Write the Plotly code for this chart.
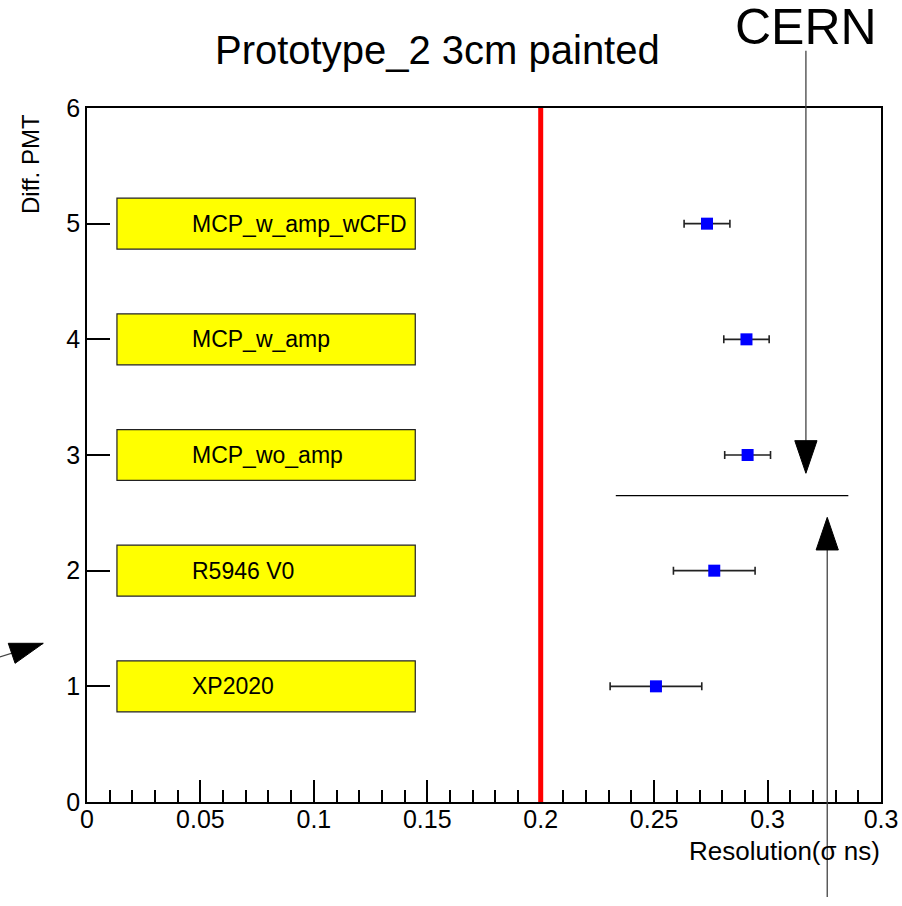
import plotly.graph_objects as go

# ---- data ---------------------------------------------------------------
detectors = ["XP2020", "R5946 V0", "MCP_wo_amp", "MCP_w_amp", "MCP_w_amp_wCFD"]
pmt_index = [1, 2, 3, 4, 5]
resolution = [0.2508, 0.2765, 0.2912, 0.2907, 0.2733]      # sigma, ns
resolution_err = [0.0202, 0.0180, 0.0101, 0.0100, 0.0101]

target_resolution = 0.2          # red reference line
x_ticks = [0, 0.05, 0.1, 0.15, 0.2, 0.25, 0.3, 0.35]
x_tick_labels = ["0", "0.05", "0.1", "0.15", "0.2", "0.25", "0.3", "0.3"]
y_ticks = [0, 1, 2, 3, 4, 5, 6]

X_RANGE = [0, 0.35]
Y_RANGE = [0, 6]

# label boxes (x extent, half-height) and text anchor
box_x = [0.0132, 0.1447]
box_half_h = 0.22
label_x = 0.0454

# annotation geometry (in data units)
cut_line = dict(x0=0.2331, x1=0.3356, y=2.648)
down_arrow = dict(x=0.3169, y_top=6.495, y_base=3.124, y_tip=2.842, half_w=0.0049)
up_arrow = dict(x=0.3263, y_bottom=-0.821, y_base=2.179, y_tip=2.461, half_w=0.0049)
side_arrow = dict(start=(-0.0384, 1.2536), tip=(-0.0193, 1.372),
                  base_a=(-0.0347, 1.372), base_b=(-0.0317, 1.199))

FONT = "Liberation Sans, Arial, Helvetica, sans-serif"

# plot area in pixels
W, H = 902, 906
L, R, T, B = 87, 21, 108, 104
PW, PH = W - L - R, H - T - B


def px(x):
    return (x - X_RANGE[0]) / (X_RANGE[1] - X_RANGE[0])


def py(y):
    return (y - Y_RANGE[0]) / (Y_RANGE[1] - Y_RANGE[0])


def pix_x(p):
    return (p - L) / PW


def pix_y(p):
    return (H - B - p) / PH


fig = go.Figure()

fig.add_trace(go.Scatter(
    x=resolution, y=pmt_index, mode="markers",
    marker=dict(symbol="square", size=12, color="#0000ff", line=dict(width=0)),
    error_x=dict(type="data", array=resolution_err, visible=True,
                 color="#222222", thickness=1.6, width=4),
    showlegend=False, hoverinfo="x+y",
))

shapes = []

# yellow label boxes
for yi in pmt_index:
    shapes.append(dict(type="rect", xref="x", yref="y", layer="below",
                       x0=box_x[0], x1=box_x[1], y0=yi - box_half_h, y1=yi + box_half_h,
                       fillcolor="#ffff00", line=dict(color="#222222", width=1.2)))

# red reference line
shapes.append(dict(type="line", xref="x", yref="y", x0=target_resolution, x1=target_resolution,
                   y0=Y_RANGE[0], y1=Y_RANGE[1], line=dict(color="#ff0000", width=5)))

# horizontal cut line
shapes.append(dict(type="line", xref="x", yref="y", x0=cut_line["x0"], x1=cut_line["x1"],
                   y0=cut_line["y"], y1=cut_line["y"], line=dict(color="black", width=1.2)))


def tri_path(pts):
    s = "M {},{}".format(px(pts[0][0]), py(pts[0][1]))
    for x, y in pts[1:]:
        s += " L {},{}".format(px(x), py(y))
    return s + " Z"


# arrow from the CERN label down to the cut line
d = down_arrow
shapes.append(dict(type="line", xref="paper", yref="paper",
                   x0=px(d["x"]), x1=px(d["x"]), y0=py(d["y_top"]), y1=py(d["y_base"]),
                   line=dict(color="#444444", width=1.3)))
shapes.append(dict(type="path", xref="paper", yref="paper",
                   path=tri_path([(d["x"] - d["half_w"], d["y_base"]),
                                  (d["x"] + d["half_w"], d["y_base"]),
                                  (d["x"], d["y_tip"])]),
                   fillcolor="black", line=dict(color="black", width=1)))

# arrow from below up to the cut line
u = up_arrow
shapes.append(dict(type="line", xref="paper", yref="paper",
                   x0=px(u["x"]), x1=px(u["x"]), y0=py(u["y_bottom"]), y1=py(u["y_base"]),
                   line=dict(color="#444444", width=1.3)))
shapes.append(dict(type="path", xref="paper", yref="paper",
                   path=tri_path([(u["x"] - u["half_w"], u["y_base"]),
                                  (u["x"] + u["half_w"], u["y_base"]),
                                  (u["x"], u["y_tip"])]),
                   fillcolor="black", line=dict(color="black", width=1)))

# small arrow on the left margin
s = side_arrow
shapes.append(dict(type="line", xref="paper", yref="paper",
                   x0=px(s["start"][0]), y0=py(s["start"][1]),
                   x1=px(s["tip"][0]), y1=py(s["tip"][1]),
                   line=dict(color="#444444", width=1.2)))
shapes.append(dict(type="path", xref="paper", yref="paper",
                   path=tri_path([s["base_a"], s["tip"], s["base_b"]]),
                   fillcolor="black", line=dict(color="black", width=1)))

annotations = []
for name, yi in zip(detectors, pmt_index):
    annotations.append(dict(x=label_x, y=yi, xref="x", yref="y", text=name,
                            showarrow=False, xanchor="left", yanchor="middle",
                            font=dict(family=FONT, size=23, color="black")))

annotations += [
    dict(x=pix_x(437), y=pix_y(50), xref="paper", yref="paper",
         text="Prototype_2 3cm painted", showarrow=False,
         xanchor="center", yanchor="middle",
         font=dict(family=FONT, size=40, color="black")),
    dict(x=pix_x(806), y=pix_y(27), xref="paper", yref="paper",
         text="CERN", showarrow=False, xanchor="center", yanchor="middle",
         font=dict(family=FONT, size=50, color="black")),
    dict(x=pix_x(882), y=pix_y(851), xref="paper", yref="paper",
         text="Resolution(σ ns)", showarrow=False, xanchor="right", yanchor="middle",
         font=dict(family=FONT, size=26, color="black")),
    dict(x=pix_x(30), y=pix_y(112), xref="paper", yref="paper",
         text="Diff. PMT", showarrow=False, textangle=-90,
         xanchor="center", yanchor="top",
         font=dict(family=FONT, size=24, color="black")),
]

axis_common = dict(showgrid=False, zeroline=False, showline=True, mirror=True,
                   linecolor="black", linewidth=1.5, ticks="inside",
                   tickcolor="black", tickwidth=1.5, automargin=False,
                   tickfont=dict(family=FONT, size=25, color="black"))

fig.update_layout(
    width=W, height=H,
    margin=dict(l=L, r=R, t=T, b=B),
    paper_bgcolor="white", plot_bgcolor="white",
    showlegend=False,
    xaxis=dict(range=X_RANGE, tickmode="array", tickvals=x_ticks, ticktext=x_tick_labels,
               ticklen=22, ticklabelstandoff=-6,
               minor=dict(dtick=0.01, tick0=0, ticks="inside", ticklen=12,
                          tickcolor="black", tickwidth=1.5),
               **axis_common),
    yaxis=dict(range=Y_RANGE, tickmode="array", tickvals=y_ticks, ticklen=23,
               **axis_common),
    shapes=shapes,
    annotations=annotations,
)

fig.write_html("out.html")
